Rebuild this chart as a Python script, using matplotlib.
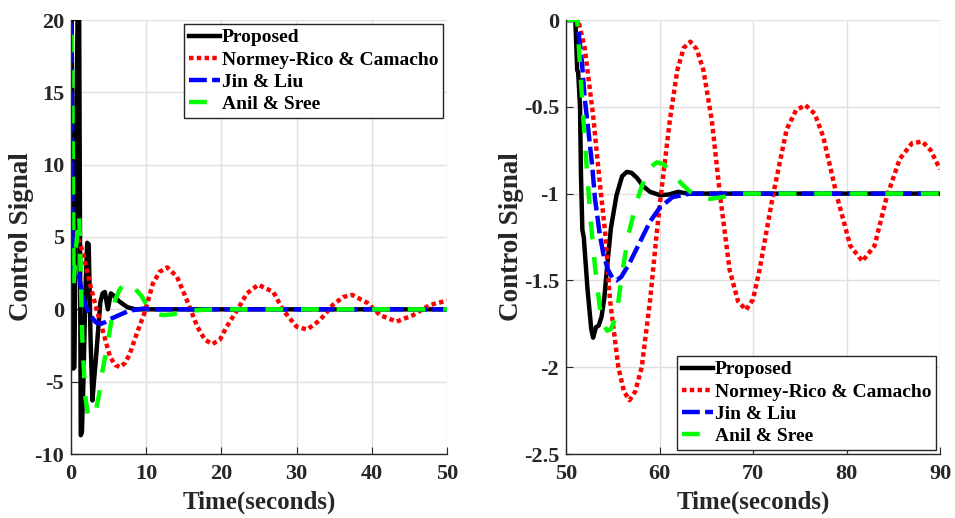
import numpy as np
import matplotlib
matplotlib.use("Agg")
import matplotlib.pyplot as plt

plt.rcParams['font.family'] = ['Liberation Serif', 'DejaVu Serif']
plt.rcParams['font.weight'] = 'bold'
plt.rcParams['axes.unicode_minus'] = False

labels = ["Proposed", "Normey-Rico & Camacho", "Jin & Liu", "Anil & Sree"]

# ---- left panel: 0-50 s (values above 20 are clipped in the picture) ----
t_prop_a = [0, 0.05, 0.3, 0.45, 0.95, 1.05, 1.3, 1.45, 1.65, 1.9, 2.15, 2.35, 2.6, 2.85, 3.05,
            3.3, 3.6, 3.9, 4.2, 4.5, 4.9, 5.3, 5.8, 6.3, 6.8, 7.5, 8.5, 10, 50]
y_prop_a = [0, 25, -4.1, -4.0, 25, 25, -8.7, -8.5, -5, 1, 4.6, 4.5, -2, -6.3, -5,
            -3.5, -1.5, 0.5, 1.1, 1.2, 0.0, 1.1, 0.9, 0.6, 0.4, 0.15, 0.0, 0.0, 0.0]

t_nr_a = [0, 0.3, 0.6, 1.0, 1.6, 2.5, 3.4, 4.3, 5.2, 5.9, 6.5, 7.2, 7.8, 8.8, 9.8, 10.9,
          11.8, 12.8, 14.1, 15.4, 16.8, 17.8, 18.8, 19.8, 20.7, 22.1, 23.4, 24.9, 26.9,
          28.2, 30.0, 31.4, 33.1, 34.8, 36.2, 37.4, 39.4, 41.1, 43.3, 45.5, 47.7, 50]
y_nr_a = [5.0, 5.7, 5.5, 4.8, 3.9, 1.8, 0.0, -1.6, -3.3, -3.85, -4.0, -3.7, -3.1, -1.6, -0.2, 1.8,
          2.6, 2.9, 2.25, 0.65, -1.2, -2.1, -2.4, -2.1, -1.2, -0.05, 1.1, 1.7, 1.2,
          -0.05, -1.2, -1.4, -0.75, 0.3, 0.85, 1.0, 0.45, -0.4, -0.85, -0.4, 0.3, 0.6]

t_jl_a = [0, 0.05, 0.2, 0.4, 1.0, 1.5, 2.0, 2.7, 3.3, 3.9, 4.5, 5.1, 6.4, 7.7, 9.6, 11, 50]
y_jl_a = [25, 25, 4.0, 2.6, 2.5, 1.0, 0.2, -0.5, -0.9, -1.0, -0.9, -0.7, -0.4, -0.1, 0.05, 0, 0]

t_as_a = [0, 0.05, 0.35, 0.7, 1.1, 1.5, 1.9, 2.3, 2.8, 3.3, 3.7, 4.2, 4.8, 5.3, 5.9, 6.5,
          7.2, 7.8, 8.4, 9.4, 10.3, 11.2, 12.2, 13.5, 15, 17, 19, 50]
y_as_a = [25, 25, 1.8, 4.5, 6.5, -2, -6.0, -7.5, -7.3, -7.0, -6.0, -4.2, -2.6, -1.0, 0.7, 1.4,
          1.8, 1.8, 1.5, 0.9, 0.1, -0.3, -0.4, -0.35, -0.15, -0.05, 0, 0]

# ---- right panel: 50-90 s ----
t_prop_b = [50, 51.0, 51.2, 51.3, 51.5, 51.6, 51.75, 51.9, 52.3, 52.7, 52.9, 53.2, 53.5, 53.8,
            54.1, 54.4, 54.8, 55.4, 56.0, 56.5, 57.0, 57.6, 58.3, 59.0, 60.1, 61.0, 62.0, 63.0, 90]
y_prop_b = [0, 0, -0.29, -0.3, -0.5, -0.89, -1.21, -1.25, -1.55, -1.78, -1.83, -1.77, -1.76, -1.71,
            -1.6, -1.42, -1.2, -1.01, -0.9, -0.875, -0.88, -0.91, -0.96, -0.99, -1.01, -1.005, -0.99, -1.0, -1.0]

t_nr_b = [50, 51.3, 52.0, 52.9, 53.6, 54.2, 54.7, 55.6, 56.2, 56.8, 57.4, 58.1, 59.0, 59.7, 60.1,
          61.1, 61.9, 62.6, 63.3, 64.0, 64.7, 65.6, 66.5, 67.5, 68.4, 69.25, 70.0, 70.7, 72.1,
          73.6, 74.6, 75.6, 76.6, 77.5, 79.0, 80.4, 81.7, 83.0, 84.3, 85.7, 87.0, 88.1, 89.0, 90]
y_nr_b = [0, 0, -0.16, -0.55, -0.93, -1.23, -1.61, -2.0, -2.14, -2.19, -2.14, -2.0, -1.61, -1.23, -1.03,
          -0.58, -0.29, -0.16, -0.125, -0.17, -0.29, -0.58, -1.02, -1.44, -1.62, -1.67, -1.61, -1.44, -1.02,
          -0.63, -0.52, -0.49, -0.54, -0.67, -1.02, -1.30, -1.39, -1.30, -1.02, -0.80, -0.71, -0.70, -0.75, -0.86]

t_jl_b = [50, 51.2, 51.3, 51.7, 52.0, 52.4, 52.8, 53.1, 53.6, 54.0, 54.5, 55.0, 55.4, 55.9,
          56.8, 57.9, 59.0, 60.05, 61.4, 63.3, 90]
y_jl_b = [0, 0, -0.05, -0.24, -0.45, -0.64, -0.84, -1.03, -1.23, -1.35, -1.44, -1.49, -1.50, -1.48,
          -1.40, -1.28, -1.16, -1.08, -1.02, -1.0, -1.0]

t_as_b = [50, 51.2, 51.5, 51.8, 52.2, 52.6, 53.1, 53.6, 54.0, 54.4, 54.8, 55.2, 55.6, 56.0, 56.7,
          57.6, 58.6, 59.0, 59.7, 60.4, 61.4, 62.3, 63.3, 64.3, 65.4, 66.8, 68.0, 90]
y_as_b = [0, 0, -0.27, -0.52, -0.84, -1.13, -1.42, -1.65, -1.75, -1.79, -1.78, -1.73, -1.62, -1.46, -1.23,
          -1.04, -0.88, -0.85, -0.82, -0.83, -0.88, -0.94, -0.99, -1.02, -1.03, -1.02, -1.0, -1.0]

left_yticks = [-10, -5, 0, 5, 10, 15, 20]
left_xticks = [0, 10, 20, 30, 40, 50]
right_yticks = [-2.5, -2, -1.5, -1, -0.5, 0]
right_yticklabels = ["-2.5", "-2", "-1.5", "-1", "-0.5", "0"]
right_xticks = [50, 60, 70, 80, 90]

fig = plt.figure(figsize=(9.55, 5.18), dpi=100)
ax1 = fig.add_axes([71/955, 64/518, 376/955, 434/518])
ax2 = fig.add_axes([566/955, 64/518, 374/955, 434/518])

def draw(ax, series):
    styles = [dict(color='black', lw=3.2, ls='-'),
              dict(color='red', lw=3.2, dashes=(1, 0.75)),
              dict(color='blue', lw=3.2, dashes=(4, 1.2)),
              dict(color='#00ff00', lw=3.2, dashes=(4, 4))]
    for (t, y), st, lab in zip(series, styles, labels):
        ax.plot(t, y, label=lab, **st)

draw(ax1, [(t_prop_a, y_prop_a), (t_nr_a, y_nr_a), (t_jl_a, y_jl_a), (t_as_a, y_as_a)])
draw(ax2, [(t_prop_b, y_prop_b), (t_nr_b, y_nr_b), (t_jl_b, y_jl_b), (t_as_b, y_as_b)])

ax1.set_xlim(0, 50)
ax1.set_ylim(-10, 20)
ax1.set_xticks(left_xticks)
ax1.set_yticks(left_yticks)
ax2.set_xlim(50, 90)
ax2.set_ylim(-2.5, 0)
ax2.set_xticks(right_xticks)
ax2.set_yticks(right_yticks)
ax2.set_yticklabels(right_yticklabels)

for ax in (ax1, ax2):
    ax.grid(True, color='#e0e0e0', lw=1)
    ax.set_axisbelow(True)
    for s in ('top', 'right'):
        ax.spines[s].set_visible(False)
    for s in ('left', 'bottom'):
        ax.spines[s].set_color('#262626')
        ax.spines[s].set_linewidth(1.0)
    ax.tick_params(direction='in', length=5, colors='#262626', labelsize=16)
    ax.tick_params(axis='x', pad=7)
    ax.tick_params(axis='y', pad=5)
    for lb in ax.get_xticklabels() + ax.get_yticklabels():
        lb.set_fontweight('bold')
    ax.set_xlabel("Time(seconds)", fontsize=18, fontweight='bold', color='#262626', labelpad=5)
    ax.set_ylabel("Control Signal", fontsize=19.5, fontweight='bold', color='#262626', labelpad=0)

leg_kw = dict(frameon=True, fancybox=False, framealpha=1, edgecolor='#262626',
              handlelength=1.6, handletextpad=0.1, labelspacing=0.24, borderpad=0.25,
              borderaxespad=0.2, prop={'weight': 'bold', 'size': 14})
l1 = ax1.legend(loc='upper right', **leg_kw)
l2 = ax2.legend(loc='lower right', **leg_kw)
for l in (l1, l2):
    l.get_frame().set_linewidth(1.0)

fig.savefig("out.png", dpi=100)
